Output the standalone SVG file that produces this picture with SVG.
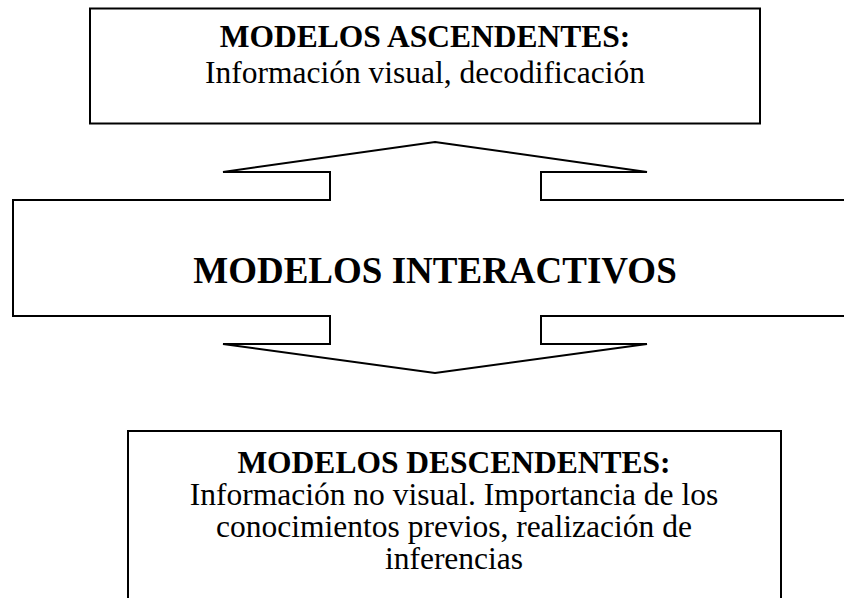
<svg xmlns="http://www.w3.org/2000/svg" width="844" height="598" viewBox="0 0 844 598">
  <style>
    .box { fill: #ffffff; stroke: #000000; stroke-width: 2; }
    .t { font-family: "Liberation Serif", "Times New Roman", serif; fill: #000000; text-anchor: middle; font-size: 31.5px; }
    .b { font-weight: bold; }
  </style>
  <rect width="844" height="598" fill="#ffffff"/>
  <g id="ascendentes">
    <rect class="box" x="90" y="8.5" width="670" height="115"/>
    <text class="t b" x="425" y="47">MODELOS ASCENDENTES:</text>
    <text class="t" x="425" y="83">Información visual, decodificación</text>
  </g>
  <g id="interactivos">
    <polygon class="box" points="435,142 647,172 541,172 541,200 858,200 858,316 541,316 541,344 647,344 435,373 223,344 330,344 330,316 13,316 13,200 330,200 330,172 223,172"/>
    <text class="t b" x="435" y="283" style="font-size:37px">MODELOS INTERACTIVOS</text>
  </g>
  <g id="descendentes">
    <rect class="box" x="128" y="431" width="653" height="200"/>
    <text class="t b" x="454" y="473">MODELOS DESCENDENTES:</text>
    <text class="t" x="454" y="505">Información no visual. Importancia de los</text>
    <text class="t" x="454" y="537">conocimientos previos, realización de</text>
    <text class="t" x="454" y="569">inferencias</text>
  </g>
  <g id="connectors"></g>
</svg>
